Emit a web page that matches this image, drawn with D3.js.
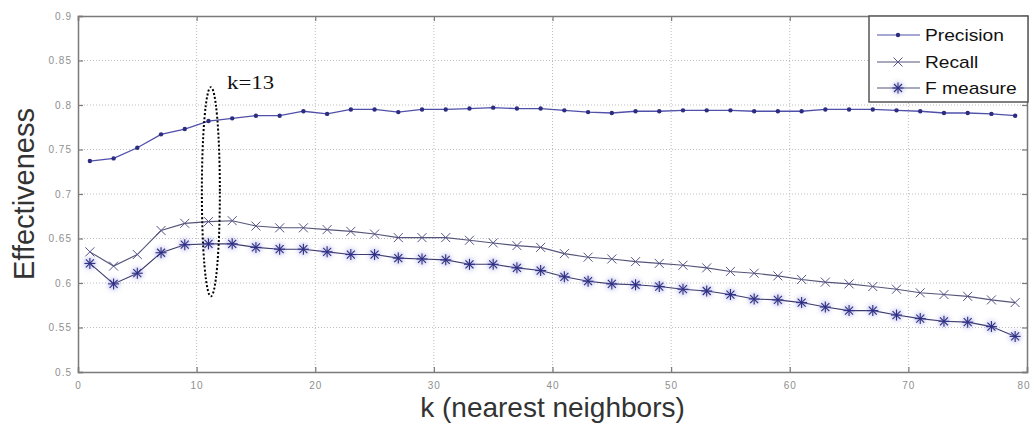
<!DOCTYPE html>
<html>
<head>
<meta charset="utf-8">
<script src="https://cdn.jsdelivr.net/npm/d3@7"></script>
<style>
  html, body { margin: 0; padding: 0; background: #fff; }
  svg { display: block; }
</style>
</head>
<body>
<svg id="chart" width="1030" height="423"></svg>
<script>
// ---- data ----
const kValues = [1,3,5,7,9,11,13,15,17,19,21,23,25,27,29,31,33,35,37,39,41,43,45,47,49,51,53,55,57,59,61,63,65,67,69,71,73,75,77,79];
const precision = [0.737,0.740,0.752,0.767,0.773,0.782,0.785,0.788,0.788,0.793,0.790,0.795,0.795,0.792,
  0.795,0.795,0.796,0.797,0.796,0.796,0.794,0.792,0.791,0.793,0.793,0.794,0.794,
  0.794,0.793,0.793,0.793,0.795,0.795,0.795,0.794,0.793,0.791,0.791,0.790,0.788];
const recall = [0.635,0.619,0.632,0.659,0.667,0.669,0.670,0.664,0.662,0.662,0.660,0.658,0.655,0.651,
  0.651,0.651,0.648,0.645,0.642,0.640,0.633,0.629,0.627,0.624,0.622,0.620,0.617,
  0.613,0.611,0.608,0.604,0.601,0.599,0.596,0.593,0.589,0.587,0.585,0.581,0.578];
const fMeasure = [0.622,0.599,0.611,0.634,0.643,0.644,0.644,0.640,0.638,0.638,0.635,0.632,0.632,0.628,
  0.627,0.626,0.621,0.621,0.617,0.614,0.607,0.602,0.599,0.598,0.596,0.593,0.591,
  0.587,0.582,0.581,0.578,0.573,0.569,0.569,0.564,0.560,0.557,0.556,0.551,0.540];
const xTicks = [0,10,20,30,40,50,60,70,80];
const yTicks = [0.5,0.55,0.6,0.65,0.7,0.75,0.8,0.85,0.9];
const yTickLabels = ["0.5","0.55","0.6","0.65","0.7","0.75","0.8","0.85","0.9"];
const seriesNames = ["Precision","Recall","F measure"];
const xLabel = "k (nearest neighbors)";
const yLabel = "Effectiveness";
const annotationText = "k=13";
const annotationK = 11.2;
const annotationRange = [0.585, 0.82];

// ---- layout ----
const svg = d3.select("#chart");
const L = 78, R = 1027, T = 16, B = 372;
const x = d3.scaleLinear().domain([0, 80]).range([L, R]);
const y = d3.scaleLinear().domain([0.5, 0.9]).range([B, T]);

const markCol = "#2c2c80";

// grid
const grid = svg.append("g");
grid.selectAll("line.gx").data(xTicks.slice(1, -1)).join("line")
  .attr("x1", d => x(d)).attr("x2", d => x(d)).attr("y1", T).attr("y2", B)
  .attr("stroke", "#bdbdbd").attr("stroke-width", 1).attr("stroke-dasharray", "1,2");
grid.selectAll("line.gy").data(yTicks.slice(1, -1)).join("line")
  .attr("x1", L).attr("x2", R).attr("y1", d => y(d)).attr("y2", d => y(d))
  .attr("stroke", "#bdbdbd").attr("stroke-width", 1).attr("stroke-dasharray", "1,2");

// axes with d3 axis (inward ticks)
const axCol = "#7a7a7a";
const gx = svg.append("g").attr("transform", `translate(0,${B})`)
  .call(d3.axisBottom(x).tickValues(xTicks).tickSize(-5).tickPadding(10).tickFormat(d3.format("d")));
const gy = svg.append("g").attr("transform", `translate(${L},0)`)
  .call(d3.axisLeft(y).tickValues(yTicks).tickSize(-5).tickPadding(6).tickFormat((d, i) => yTickLabels[i]));
const gxTop = svg.append("g").attr("transform", `translate(0,${T})`)
  .call(d3.axisTop(x).tickValues(xTicks).tickSize(-5).tickFormat(""));
const gyRight = svg.append("g").attr("transform", `translate(${R},0)`)
  .call(d3.axisRight(y).tickValues(yTicks).tickSize(-5).tickFormat(""));
[gx, gy, gxTop, gyRight].forEach(g => {
  g.select(".domain").attr("stroke", axCol).attr("stroke-width", 1.5);
  g.selectAll(".tick line").attr("stroke", axCol).attr("stroke-width", 1.2);
  g.selectAll(".tick text").attr("fill", "#8f8f8f")
    .style("font-family", "Liberation Sans, Arial, sans-serif").style("font-size", "10px")
    .style("letter-spacing", "1px");
});
// last x label sits at the right edge: keep it inside the picture
gx.selectAll(".tick text").filter(d => d === 80).attr("text-anchor", "end").attr("dx", "0.3em");

// lines
const line = d3.line().x(d => x(d[0])).y(d => y(d[1]));
const pData = kValues.map((k, i) => [k, precision[i]]);
const rData = kValues.map((k, i) => [k, recall[i]]);
const fData = kValues.map((k, i) => [k, fMeasure[i]]);

svg.append("path").datum(pData).attr("d", line).attr("fill", "none")
  .attr("stroke", "#5050aa").attr("stroke-width", 1.3);
svg.append("path").datum(rData).attr("d", line).attr("fill", "none")
  .attr("stroke", "#55557a").attr("stroke-width", 1.1);
svg.append("path").datum(fData).attr("d", line).attr("fill", "none")
  .attr("stroke", "#3a3a6a").attr("stroke-width", 1.1);

// markers
svg.append("g").selectAll("circle").data(pData).join("circle")
  .attr("cx", d => x(d[0])).attr("cy", d => y(d[1])).attr("r", 2.2).attr("fill", markCol);

const xMark = (g, cx, cy, s, col, w) => {
  g.append("line").attr("x1", cx - s).attr("y1", cy - s).attr("x2", cx + s).attr("y2", cy + s)
    .attr("stroke", col).attr("stroke-width", w);
  g.append("line").attr("x1", cx - s).attr("y1", cy + s).attr("x2", cx + s).attr("y2", cy - s)
    .attr("stroke", col).attr("stroke-width", w);
};
const rG = svg.append("g");
rData.forEach(d => xMark(rG, x(d[0]), y(d[1]), 4.5, "#55558a", 1.0));

const defs = svg.append("defs");
defs.append("filter").attr("id", "glow").attr("x", "-100%").attr("y", "-100%").attr("width", "300%").attr("height", "300%")
  .append("feGaussianBlur").attr("stdDeviation", 2.4);
const star = (g, cx, cy) => {
  g.append("circle").attr("cx", cx).attr("cy", cy).attr("r", 6)
    .attr("fill", "#8a8ae0").attr("opacity", 0.45).attr("filter", "url(#glow)");
  xMark(g, cx, cy, 4, "#2e2e82", 1.1);
  g.append("line").attr("x1", cx - 5.5).attr("y1", cy).attr("x2", cx + 5.5).attr("y2", cy)
    .attr("stroke", "#2e2e82").attr("stroke-width", 1.1);
  g.append("line").attr("x1", cx).attr("y1", cy - 5.5).attr("x2", cx).attr("y2", cy + 5.5)
    .attr("stroke", "#2e2e82").attr("stroke-width", 1.1);
};
const fG = svg.append("g");
fData.forEach(d => star(fG, x(d[0]), y(d[1])));

// annotation ellipse
const ex = x(annotationK), ey1 = y(annotationRange[1]), ey2 = y(annotationRange[0]);
svg.append("ellipse").attr("cx", ex).attr("cy", (ey1 + ey2) / 2)
  .attr("rx", 9).attr("ry", (ey2 - ey1) / 2)
  .attr("fill", "none").attr("stroke", "#000").attr("stroke-width", 2).attr("stroke-dasharray", "2,2");
svg.append("text").attr("transform", "translate(227,89) scale(1.2,1)")
  .style("font-family", "Liberation Serif, Times New Roman, serif").style("font-size", "19px")
  .attr("fill", "#111").text(annotationText);

// legend
const lg = svg.append("g");
lg.append("rect").attr("x", 869).attr("y", T).attr("width", R - 869 + 1).attr("height", 86)
  .attr("fill", "#fff").attr("stroke", "#555").attr("stroke-width", 1.5);
const legY = [35, 62, 88];
seriesNames.forEach((name, i) => {
  const yy = legY[i];
  lg.append("line").attr("x1", 877).attr("x2", 920).attr("y1", yy).attr("y2", yy)
    .attr("stroke", i === 0 ? "#5050aa" : "#55557a").attr("stroke-width", 1.2);
  if (i === 0) {
    lg.append("circle").attr("cx", 898).attr("cy", yy).attr("r", 2.2).attr("fill", markCol);
  } else if (i === 1) {
    xMark(lg, 898, yy, 4.5, "#55558a", 1.0);
  } else {
    star(lg, 898, yy);
  }
  lg.append("text").attr("transform", `translate(925,${yy + 6}) scale(1.2,1)`)
    .style("font-family", "Liberation Sans, Arial, sans-serif").style("font-size", "16px")
    .attr("fill", "#111").text(name);
});

// axis labels
svg.append("text").attr("x", (L + R) / 2).attr("y", 417).attr("text-anchor", "middle")
  .style("font-family", "Liberation Sans, Arial, sans-serif").style("font-size", "28px")
  .attr("fill", "#333").text(xLabel);
svg.append("text").attr("transform", `translate(34,${(T + B) / 2}) rotate(-90)`).attr("text-anchor", "middle")
  .style("font-family", "Liberation Sans, Arial, sans-serif").style("font-size", "29px")
  .attr("fill", "#333").text(yLabel);
</script>
</body>
</html>
